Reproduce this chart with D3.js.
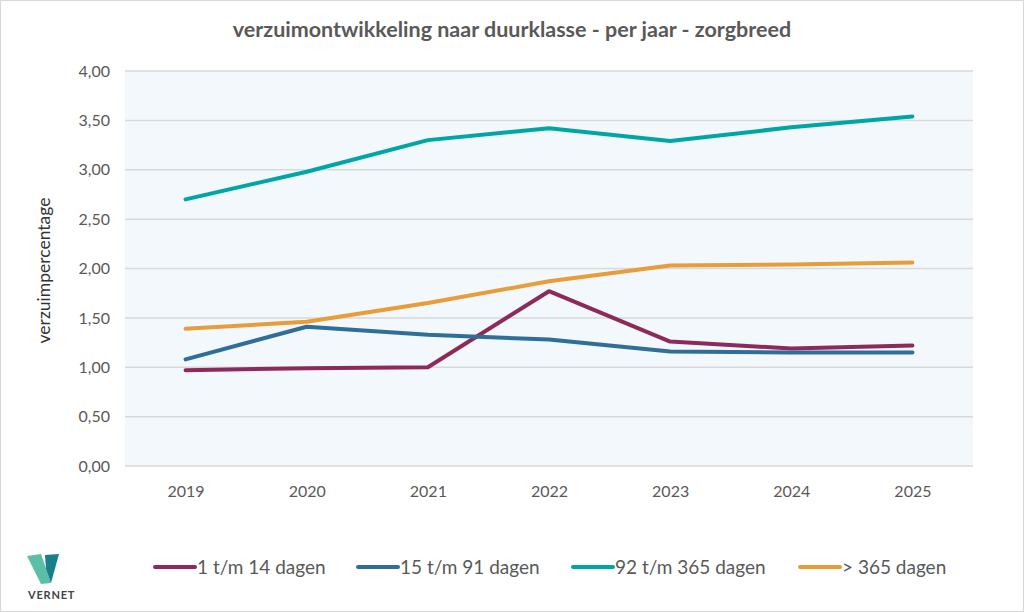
<!DOCTYPE html>
<html>
<head>
<meta charset="utf-8">
<script src="https://cdn.jsdelivr.net/npm/d3@7"></script>
<style>
  body { margin: 0; background: #fff; }
  svg { font-family: Lato, "Open Sans", sans-serif; }
</style>
</head>
<body>
<div id="chart"></div>
<script>
// chart data
var years = ["2019", "2020", "2021", "2022", "2023", "2024", "2025"];
var seriesNames = ["1 t/m 14 dagen", "15 t/m 91 dagen", "92 t/m 365 dagen", "> 365 dagen"];
var kort = [0.97, 0.99, 1.00, 1.77, 1.26, 1.19, 1.22];
var middel = [1.08, 1.41, 1.33, 1.28, 1.16, 1.15, 1.15];
var lang = [2.70, 2.98, 3.30, 3.42, 3.29, 3.43, 3.54];
var extraLang = [1.39, 1.46, 1.65, 1.87, 2.03, 2.04, 2.06];
var yTicks = [0, 0.5, 1, 1.5, 2, 2.5, 3, 3.5, 4];

var colors = ["#8e2a5a", "#2f6e98", "#00a6a6", "#e89c3a"];
var allSeries = [kort, middel, lang, extraLang];

var width = 1024, height = 612;
var plotLeft = 125, plotRight = 973, plotTop = 71, plotBottom = 466;

var svg = d3.select("#chart").append("svg")
    .attr("width", width).attr("height", height);

// outer border
svg.append("rect")
    .attr("x", 0.5).attr("y", 0.5)
    .attr("width", width - 1).attr("height", height - 1)
    .attr("fill", "#fff").attr("stroke", "#d9d9d9");

var x = d3.scalePoint().domain(years).range([plotLeft, plotRight]).padding(0.5);
var y = d3.scaleLinear().domain([0, 4]).range([plotBottom, plotTop]);

// plot background
svg.append("rect")
    .attr("x", plotLeft).attr("y", plotTop)
    .attr("width", plotRight - plotLeft).attr("height", plotBottom - plotTop)
    .attr("fill", "#f2f8fb");

// gridlines
svg.append("g").selectAll("line").data(yTicks).enter().append("line")
    .attr("x1", plotLeft).attr("x2", plotRight)
    .attr("y1", function(d) { return y(d); })
    .attr("y2", function(d) { return y(d); })
    .attr("stroke", "#d9d9d9").attr("stroke-width", 1.5);

// y axis
var fmt = function(d) { return d3.format(".2f")(d).replace(".", ","); };
var yAxis = svg.append("g")
    .attr("transform", "translate(" + (plotLeft - 12) + ",0)")
    .call(d3.axisLeft(y).tickValues(yTicks).tickFormat(fmt).tickSize(0));
yAxis.select(".domain").remove();
yAxis.selectAll("text").attr("fill", "#595959").style("font-size", "16px")
    .style("font-family", "Lato, sans-serif");

// x axis
var xAxis = svg.append("g")
    .attr("transform", "translate(0," + (plotBottom + 17) + ")")
    .call(d3.axisBottom(x).tickSize(0));
xAxis.select(".domain").remove();
xAxis.selectAll("text").attr("fill", "#595959").style("font-size", "16px")
    .style("font-family", "Lato, sans-serif");

// y label
svg.append("text")
    .attr("transform", "translate(50," + ((plotTop + plotBottom) / 2 + 2) + ") rotate(-90)")
    .attr("text-anchor", "middle")
    .attr("fill", "#333").style("font-size", "17.5px")
    .text("verzuimpercentage");

// title
svg.append("text")
    .attr("x", 512).attr("y", 37)
    .attr("text-anchor", "middle")
    .attr("fill", "#595959").style("font-size", "21.5px").style("font-weight", "bold")
    .text("verzuimontwikkeling naar duurklasse - per jaar - zorgbreed");

// lines
var line = d3.line()
    .x(function(d, i) { return x(years[i]); })
    .y(function(d) { return y(d); });

svg.append("g").selectAll("path").data(allSeries).enter().append("path")
    .attr("d", line)
    .attr("fill", "none")
    .attr("stroke", function(d, i) { return colors[i]; })
    .attr("stroke-width", 4)
    .attr("stroke-linecap", "round")
    .attr("stroke-linejoin", "round");

// legend
var legendX = [155, 358, 573, 800];
var legend = svg.append("g").selectAll("g").data(seriesNames).enter().append("g")
    .attr("transform", function(d, i) { return "translate(" + legendX[i] + ",567)"; });
legend.append("line")
    .attr("x1", 0).attr("x2", 40).attr("y1", 0).attr("y2", 0)
    .attr("stroke", function(d, i) { return colors[i]; })
    .attr("stroke-width", 4).attr("stroke-linecap", "round");
legend.append("text")
    .attr("x", 42).attr("y", 7)
    .attr("fill", "#595959").style("font-size", "19px")
    .text(function(d) { return d; });

// logo
var logo = svg.append("g").attr("transform", "translate(27,554)");
logo.append("path").attr("d", "M0,2 L14,0 L24,29 L14,30 Z").attr("fill", "#5bbfa8");
logo.append("path").attr("d", "M18,1 L32,0 L24,29 L19,15 Z").attr("fill", "#17808a");
logo.append("text")
    .attr("x", 1).attr("y", 45)
    .attr("fill", "#444").style("font-size", "11px").style("font-weight", "bold")
    .style("letter-spacing", "0.8px")
    .text("VERNET");
</script>
</body>
</html>
